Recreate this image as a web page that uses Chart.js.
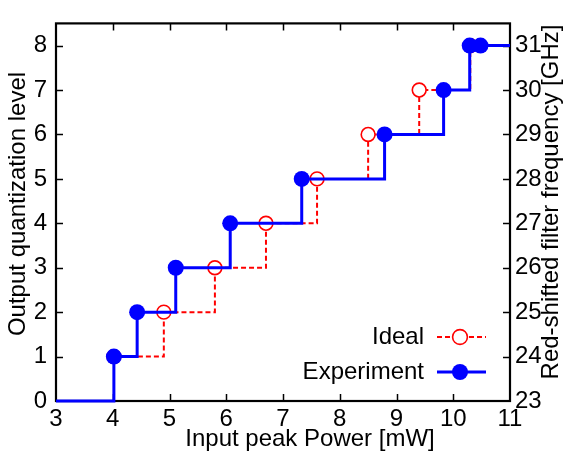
<!DOCTYPE html>
<html>
<head>
<meta charset="utf-8">
<script src="https://cdn.jsdelivr.net/npm/chart.js@4.4.1/dist/chart.umd.min.js"></script>
<style>
  html, body { margin: 0; padding: 0; background: #fff; }
  #wrap { width: 567px; height: 455px; }
</style>
</head>
<body>
<div id="wrap"><canvas id="stepchart"></canvas></div>
<script>
// experiment: staircase measured levels
const expPower = [3, 4.02, 4.43, 5.11, 6.07, 7.33, 8.79, 9.83, 10.29, 10.48, 11];
const expLevel = [0, 1, 2, 3, 4, 5, 6, 7, 8, 8, 8];
// ideal quantization thresholds
const idealPower = [4.02, 4.9, 5.8, 6.7, 7.6, 8.5, 9.4, 10.3];
const idealLevel = [1, 2, 3, 4, 5, 6, 7, 8];
const xTicks = [3, 4, 5, 6, 7, 8, 9, 10, 11];
const levelTicks = [0, 1, 2, 3, 4, 5, 6, 7, 8];
const freqTicks = [23, 24, 25, 26, 27, 28, 29, 30, 31];

const FONT = '"Liberation Sans", Arial, sans-serif';
const FS = 24;
const toPts = (xs, ys) => xs.map((x, i) => ({x: x, y: ys[i]}));

const expPts = toPts(expPower, expLevel);
const expRadius = expPts.map((p, i) => (i === 0 || i === expPts.length - 1) ? 0 : 8);

// frame, inward ticks, axis titles and gnuplot-like legend
const gnuplotLook = {
  id: 'gnuplotLook',
  beforeDatasetsDraw(chart) {
    const {ctx, chartArea: a, scales} = chart;
    ctx.save();
    ctx.strokeStyle = '#000';
    ctx.lineWidth = 1.5;
    ctx.beginPath();
    xTicks.slice(1, -1).forEach(v => {
      const px = Math.round(scales.x.getPixelForValue(v)) + 0.5;
      ctx.moveTo(px, a.bottom); ctx.lineTo(px, a.bottom - 7);
      ctx.moveTo(px, a.top); ctx.lineTo(px, a.top + 7);
    });
    levelTicks.slice(1).forEach(v => {
      const py = Math.round(scales.y.getPixelForValue(v)) + 0.5;
      ctx.moveTo(a.left, py); ctx.lineTo(a.left + 7, py);
    });
    freqTicks.slice(1).forEach(v => {
      const py = Math.round(scales.y2.getPixelForValue(v)) + 0.5;
      ctx.moveTo(a.right, py); ctx.lineTo(a.right - 7, py);
    });
    ctx.stroke();
    ctx.lineWidth = 2.2;
    ctx.strokeRect(a.left, a.top, a.right - a.left, a.bottom - a.top);
    ctx.restore();
  },
  afterDraw(chart) {
    const {ctx} = chart;
    ctx.save();
    ctx.fillStyle = '#000';
    ctx.font = FS + 'px ' + FONT;
    ctx.textAlign = 'center';
    ctx.textBaseline = 'middle';
    ctx.fillText('Input peak Power [mW]', 310, 439);
    ctx.save();
    ctx.translate(18, 204);
    ctx.rotate(-Math.PI / 2);
    ctx.fillText('Output quantization level', 0, 0);
    ctx.restore();
    ctx.save();
    ctx.translate(551, 202);
    ctx.rotate(-Math.PI / 2);
    ctx.fillText('Red-shifted filter frequency [GHz]', 0, 0);
    ctx.restore();

    // legend: text on the left, sample on the right
    ctx.textAlign = 'right';
    const rows = [
      {label: 'Ideal', y: 337, color: '#ff0000', dash: [5, 3], width: 2, filled: false},
      {label: 'Experiment', y: 372, color: '#0000ff', dash: [], width: 3, filled: true}
    ];
    rows.forEach(r => {
      ctx.fillStyle = '#000';
      ctx.fillText(r.label, 424, r.y);
      ctx.strokeStyle = r.color;
      ctx.lineWidth = r.width;
      ctx.setLineDash(r.dash);
      ctx.beginPath();
      ctx.moveTo(437, r.y); ctx.lineTo(486, r.y);
      ctx.stroke();
      ctx.setLineDash([]);
      ctx.beginPath();
      if (r.filled) {
        ctx.arc(460, r.y, 8, 0, Math.PI * 2);
        ctx.fillStyle = r.color;
        ctx.fill();
      } else {
        ctx.arc(460, r.y, 7.4, 0, Math.PI * 2);
        ctx.fillStyle = '#fff';
        ctx.fill();
        ctx.lineWidth = 1.6;
        ctx.stroke();
      }
    });
    ctx.restore();
  }
};

new Chart(document.getElementById('stepchart'), {
  type: 'line',
  data: {
    datasets: [
      {
        label: 'Experiment',
        data: expPts,
        stepped: 'before',
        borderColor: '#0000ff',
        backgroundColor: '#0000ff',
        borderWidth: 3,
        pointRadius: expRadius,
        pointBackgroundColor: '#0000ff',
        pointBorderWidth: 0,
        clip: false
      },
      {
        label: 'Ideal',
        data: toPts(idealPower, idealLevel),
        stepped: 'before',
        borderColor: '#ff0000',
        borderWidth: 2,
        borderDash: [5, 3],
        pointRadius: 6.9,
        pointBackgroundColor: '#ffffff',
        pointBorderColor: '#ff0000',
        pointBorderWidth: 1.6,
        clip: false
      }
    ]
  },
  options: {
    responsive: true,
    maintainAspectRatio: false,
    animation: false,
    layout: { padding: { top: 9, left: 0, right: 0, bottom: 0 } },
    plugins: {
      legend: { display: false },
      tooltip: { enabled: false }
    },
    scales: {
      x: {
        type: 'linear',
        min: 3, max: 11,
        grid: { display: false, drawTicks: false },
        border: { display: false },
        ticks: { stepSize: 1, padding: 4, color: '#000', font: { family: FONT, size: FS } },
        afterFit: s => { s.height = 54; }
      },
      y: {
        position: 'left',
        min: 0, max: 8.5,
        grid: { display: false, drawTicks: false },
        border: { display: false },
        ticks: { stepSize: 1, includeBounds: false, padding: 9, color: '#000', font: { family: FONT, size: FS } },
        afterFit: s => { s.width = 56; }
      },
      y2: {
        position: 'right',
        min: 23, max: 31.5,
        grid: { display: false, drawTicks: false },
        border: { display: false },
        ticks: { stepSize: 1, includeBounds: false, padding: 5, color: '#000', font: { family: FONT, size: FS } },
        afterFit: s => { s.width = 57; }
      }
    }
  },
  plugins: [gnuplotLook]
});
</script>
</body>
</html>
